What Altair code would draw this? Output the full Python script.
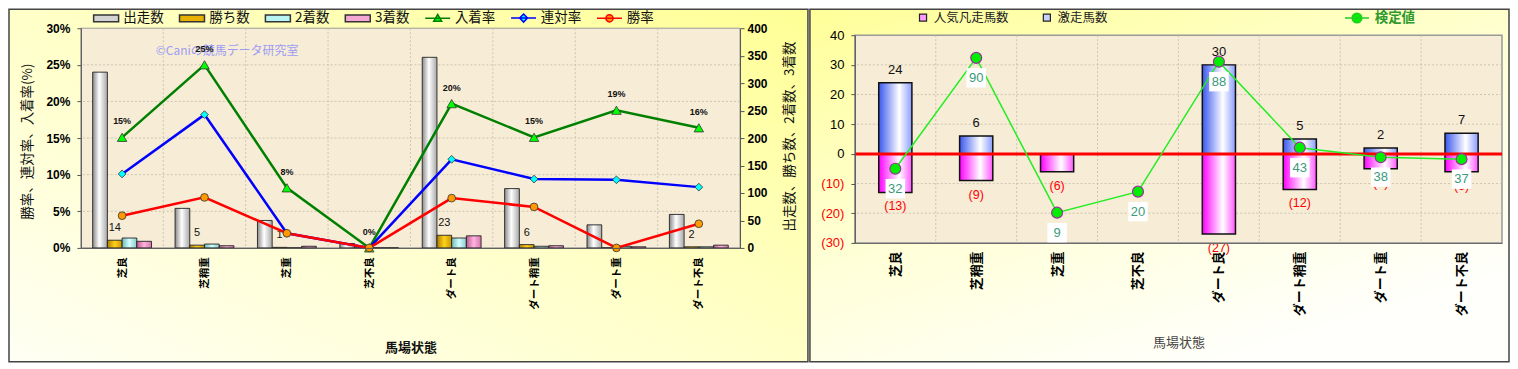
import altair as alt
import pandas as pd

# ---------------- data ----------------
cats = ["芝良", "芝稍重", "芝重", "芝不良", "ダート良", "ダート稍重", "ダート重", "ダート不良"]

bar_series = ["出走数", "勝ち数", "2着数", "3着数"]
starts = [320, 72, 50, 8, 347, 108, 42, 61]
wins = [14, 5, 1, 0, 23, 6, 0, 2]
seconds = [18, 7, 0, 0, 18, 3, 3, 2]
thirds = [12, 4, 3, 0, 22, 4, 2, 5]

rate_series = ["入着率", "連対率", "勝率"]
place_rate = [15.1, 25.0, 8.2, 0.0, 19.7, 15.1, 18.8, 16.4]
rentai_rate = [10.1, 18.2, 2.0, 0.0, 12.1, 9.4, 9.3, 8.3]
win_rate = [4.4, 6.9, 2.0, 0.0, 6.8, 5.6, 0.0, 3.3]

pct_ticks = [0, 5, 10, 15, 20, 25, 30]
cnt_ticks = [0, 50, 100, 150, 200, 250, 300, 350, 400]

right_series = ["人気凡走馬数", "激走馬数"]
gekisou = [24, 6, 0, 0, 30, 5, 2, 7]
bonsou = [-13, -9, -6, 0, -27, -12, -5, -6]
kentei = [32, 90, 9, 20, 88, 43, 38, 37]
diff_ticks = [-30, -20, -10, 0, 10, 20, 30, 40]
kentei_domain = [-6.83, 101.86]

watermark = "©Caniの競馬データ研究室"
x_title = "馬場状態"
left_y_title = "勝率、連対率、入着率(%)"
right_y_title = "出走数、勝ち数、2着数、3着数"
line_legend = "検定値"

# ---------------- tables ----------------
counts_df = pd.DataFrame(
    [{"cat": c, "series": s, "value": v}
     for s, vals in zip(bar_series, [starts, wins, seconds, thirds])
     for c, v in zip(cats, vals)]
)
rates_df = pd.DataFrame(
    [{"cat": c, "series": s, "rate": v}
     for s, vals in zip(rate_series, [place_rate, rentai_rate, win_rate])
     for c, v in zip(cats, vals)]
)
right_df = pd.DataFrame({"cat": cats, "gekisou": gekisou, "bonsou": bonsou, "kentei": kentei})
one = pd.DataFrame({"k": [0]})

JP = "Noto Sans CJK JP"
NUM = "Liberation Sans"

W1, H1 = 660, 220
W2, H2 = 648, 215


def grad(c0, c1, c2, mid=0.5, x2=1, y2=0, y1=0):
    return {"gradient": "linear", "x1": 0, "y1": y1, "x2": x2, "y2": y2,
            "stops": [{"offset": 0, "color": c0}, {"offset": mid, "color": c1},
                      {"offset": 1, "color": c2}]}


# ================= LEFT CHART =================
x_scale1 = alt.Scale(domain=cats, paddingInner=0, paddingOuter=0)
x_axis1 = alt.Axis(
    title=x_title, labelAngle=270, labelAlign="right", labelBaseline="middle",
    labelFont=JP, labelFontSize=10.5, labelFontWeight="bold", labelColor="#000",
    labelPadding=9, labelOverlap=False, tickBand="extent", tickSize=0,
    domainColor="#555", titleFont=JP, titleFontSize=13, titleFontWeight="bold",
    titleColor="#111", titleY=100, titleBaseline="middle", zindex=1,
)


def X1(**kw):
    return alt.X("cat:N", scale=x_scale1, axis=x_axis1, **kw)


cnt_scale = alt.Scale(domain=[0, 400], nice=False, zero=True)
cnt_axis = alt.Axis(
    orient="right", values=cnt_ticks, grid=False, tickSize=4, tickColor="#555",
    domainColor="#555", labelFont=NUM, labelFontSize=12, labelFontWeight="bold",
    labelColor="#000", labelPadding=3, title=right_y_title, titleFont=JP,
    titleFontSize=13.5, titleFontWeight="normal", titleColor="#111",
    titleAngle=270, titleX=50, titleY=108, titleAlign="center",
    titleBaseline="middle", zindex=1,
)
rate_scale = alt.Scale(domain=[0, 30], nice=False, zero=True)
rate_axis = alt.Axis(
    orient="left", values=pct_ticks, grid=False, tickSize=4, tickColor="#555",
    domainColor="#555", labelExpr="datum.value + '%'", labelFont=NUM,
    labelFontSize=12, labelFontWeight="bold", labelColor="#000", labelPadding=7,
    title=left_y_title, titleFont=JP, titleFontSize=13.5, titleFontWeight="normal",
    titleColor="#111", titleAngle=270, titleX=-53, titleY=113,
    titleAlign="center", titleBaseline="middle", zindex=1,
)


def Yc():
    return alt.Y("value:Q", scale=cnt_scale, axis=cnt_axis)


def Yr():
    return alt.Y("rate:Q", scale=rate_scale, axis=rate_axis)


xoff = alt.XOffset("series:N", scale=alt.Scale(domain=bar_series, paddingInner=0, paddingOuter=0.8))

panel1 = alt.Chart(one).mark_rect(
    fill=grad("#fffff4", "#ffffc8", "#ffff96", y1=1, y2=0), stroke="#444", strokeWidth=1.5
).encode(x=alt.value(-72), x2=alt.value(W1 + 68), y=alt.value(-19), y2=alt.value(334))

plot1 = alt.Chart(one).mark_rect(fill="#f7ecd6", stroke="#9a9a9a", strokeWidth=1).encode(
    x=alt.value(0), x2=alt.value(W1), y=alt.value(0), y2=alt.value(H1))

vgrid1 = alt.Chart(pd.DataFrame({"cat": cats[1:]})).mark_rule(
    color="#c4bba8", strokeDash=[2, 2], strokeWidth=0.8
).encode(x=X1(bandPosition=0))

hgrid1 = alt.Chart(pd.DataFrame({"t": pct_ticks[1:-1]})).mark_rule(
    color="#c4bba8", strokeDash=[2, 2], strokeWidth=0.8
).encode(y=alt.Y("t:Q", scale=rate_scale, axis=None))

wm = alt.Chart(one).mark_text(
    text=watermark, font=JP, fontSize=12, color="#9c9cf4", align="left", baseline="middle"
).encode(x=alt.value(75), y=alt.value(23))

bar_fills = {
    "出走数": grad("#8a8a8a", "#ffffff", "#a8a8a8", 0.45),
    "勝ち数": grad("#b07c00", "#ffd21a", "#c89400", 0.5),
    "2着数": grad("#6fb8b8", "#d4ffff", "#86cccc", 0.5),
    "3着数": grad("#c05a92", "#ffb4e0", "#d874aa", 0.5),
}
bar_layers = []
for s in bar_series:
    bar_layers.append(
        alt.Chart(counts_df).transform_filter(alt.datum.series == s).mark_bar(
            fill=bar_fills[s], stroke="#222", strokeWidth=0.9
        ).encode(x=X1(), xOffset=xoff, y=Yc())
    )
cnt_text = alt.Chart(counts_df).transform_filter(
    (alt.datum.series == "勝ち数") & (alt.datum.value > 0)
).mark_text(font=NUM, fontSize=11, color="#111", baseline="bottom", dy=-7).encode(
    x=X1(), xOffset=xoff, y=Yc(), text="value:Q")
counts_layer = alt.layer(*bar_layers, cnt_text)

line_styles = [
    ("入着率", "#008000", "#00ff00", "triangle-up", 90),
    ("連対率", "#0000ff", "#00ffff", "diamond", 60),
    ("勝率", "#ff0000", "#ff9900", "circle", 60),
]
lines, pts = [], []
for s, col, mfill, shp, sz in line_styles:
    base = alt.Chart(rates_df).transform_filter(alt.datum.series == s)
    lines.append(base.mark_line(color=col, strokeWidth=2.5).encode(x=X1(), y=Yr()))
    pts.append(base.mark_point(filled=True, fill=mfill, stroke="#333", strokeWidth=0.8,
                               size=sz, shape=shp, opacity=1).encode(x=X1(), y=Yr()))
pct_text = alt.Chart(rates_df).transform_filter(alt.datum.series == "入着率").transform_calculate(
    lbl="format(datum.rate, '.0f') + '%'"
).mark_text(font=NUM, fontSize=9, fontWeight="bold", color="#111", dy=-16).encode(
    x=X1(), y=Yr(), text="lbl:N")
rates_layer = alt.layer(*lines, *pts, pct_text)

all7 = bar_series + rate_series
fills7 = ["#d4d4d4", "#e8b000", "#b8f4f4", "#f4a8d4", "#00ff00", "#00ffff", "#ff9900"]
strokes7 = ["#333333", "#333333", "#333333", "#333333", "#008000", "#0000ff", "#ff0000"]
barp = "M-1,-1.1H7.33V1.1H-1Z"
paths7 = [barp, barp, barp, barp,
          "M-1,0H7.33M3.17,-1.3L4.5,1H1.84Z",
          "M-1,0H7.33M3.17,-1.35L4.5,0L3.17,1.35L1.84,0Z",
          "M-1,0H7.33M4.37,0A1.2,1.2,0,1,1,1.97,0A1.2,1.2,0,1,1,4.37,0Z"]
legL = alt.Legend(orient="none", legendX=9, legendY=-17, direction="horizontal", title=None,
                  symbolSize=36, symbolStrokeWidth=1.5, labelFont=JP, labelFontSize=13.5,
                  labelColor="#111", labelOffset=20, columnPadding=12)
leg_left = alt.Chart(alt.Data(values=[{"k": "出走数"}])).transform_filter("false").mark_point(
    filled=True, opacity=1
).encode(
    fill=alt.Fill("k:N", scale=alt.Scale(domain=all7, range=fills7), legend=legL),
    stroke=alt.Stroke("k:N", scale=alt.Scale(domain=all7, range=strokes7), legend=legL),
    shape=alt.Shape("k:N", scale=alt.Scale(domain=all7, range=paths7), legend=legL),
)

left = alt.layer(panel1, plot1, vgrid1, hgrid1, wm, counts_layer, rates_layer, leg_left).resolve_scale(
    y="independent").properties(width=W1, height=H1)

# ================= RIGHT CHART =================
x_scale2 = alt.Scale(domain=cats, paddingInner=0, paddingOuter=0)
x_axis2 = alt.Axis(
    title=x_title, labelAngle=270, labelAlign="right", labelBaseline="middle",
    labelFont=JP, labelFontSize=13, labelFontWeight="bold", labelColor="#000",
    labelPadding=8, labelOverlap=False, tickBand="extent", tickSize=0,
    domainColor="#666", titleFont=JP, titleFontSize=13, titleFontWeight="normal",
    titleColor="#444", titleY=100, titleBaseline="middle", zindex=1,
)


def X2(**kw):
    return alt.X("cat:N", scale=x_scale2, axis=x_axis2, **kw)


y_scale2 = alt.Scale(domain=[-30, 40], range=[H2, 7], nice=False, zero=False)
y_axis2 = alt.Axis(
    orient="left", values=diff_ticks, grid=False, tickSize=4, tickColor="#555",
    domainColor="#555", labelFont=NUM, labelFontSize=13,
    labelExpr="datum.value < 0 ? '(' + (-datum.value) + ')' : datum.value",
    labelColor={"condition": {"test": "datum.value < 0", "value": "#ff0000"}, "value": "#000000"},
    labelPadding=7, title=None, zindex=1,
)


def Y2(field):
    return alt.Y(field, type="quantitative", scale=y_scale2, axis=y_axis2)


panel2 = alt.Chart(one).mark_rect(
    fill=grad("#ffff99", "#ffffd8", "#fffffc", 0.55, x2=0.6, y2=1), stroke="#444", strokeWidth=1.5
).encode(x=alt.value(-45), x2=alt.value(W2 + 7), y=alt.value(-19), y2=alt.value(334))

plot2 = alt.Chart(one).mark_rect(fill="#f7ecd6", stroke="#9a9a9a", strokeWidth=1.5).encode(
    x=alt.value(0), x2=alt.value(W2), y=alt.value(7), y2=alt.value(H2))

vgrid2 = alt.Chart(pd.DataFrame({"cat": cats[1:]})).mark_rule(
    color="#c4bba8", strokeDash=[2, 2], strokeWidth=0.8
).encode(x=X2(bandPosition=0), y=alt.value(7), y2=alt.value(H2))

hgrid2 = alt.Chart(pd.DataFrame({"t": [v for v in diff_ticks if v not in (-30, 0, 40)]})).mark_rule(
    color="#c4bba8", strokeDash=[2, 2], strokeWidth=0.8
).encode(y=Y2("t"))

blue = alt.Chart(right_df).transform_filter(alt.datum.gekisou > 0).mark_bar(
    fill=grad("#3a58ee", "#ffffff", "#8a9cff", 0.62), stroke="#111", strokeWidth=1.5,
    width={"band": 0.41}
).encode(x=X2(), y=Y2("gekisou"))

pink = alt.Chart(right_df).transform_filter(alt.datum.bonsou < 0).mark_bar(
    fill=grad("#ff00ff", "#ffffff", "#ff55ff", 0.62), stroke="#111", strokeWidth=1.5,
    width={"band": 0.41}
).encode(x=X2(), y=Y2("bonsou"))

zero = alt.Chart(pd.DataFrame({"t": [0]})).mark_rule(color="#ff0000", strokeWidth=3).encode(y=Y2("t"))

blk = alt.Chart(right_df).transform_filter(alt.datum.gekisou > 0).mark_text(
    font=NUM, fontSize=13, color="#111", baseline="bottom", dy=-6
).encode(x=X2(), y=Y2("gekisou"), text="gekisou:Q")

red = alt.Chart(right_df).transform_filter(alt.datum.bonsou < 0).transform_calculate(
    lbl="'(' + (-datum.bonsou) + ')'"
).mark_text(font=NUM, fontSize=12.5, color="#ff0000", baseline="top", dy=8).encode(
    x=X2(), y=Y2("bonsou"), text="lbl:N")

primary = alt.layer(plot2, vgrid2, hgrid2, blue, pink, zero, blk, red)

k_scale = alt.Scale(domain=kentei_domain, range=[H2, 7], nice=False, zero=False)
Yk = alt.Y("kentei:Q", scale=k_scale, axis=None)
kline = alt.Chart(right_df).mark_line(color="#22ee22", strokeWidth=1.5).encode(x=X2(), y=Yk)
kpts = alt.Chart(right_df).mark_point(
    filled=True, shape="circle", fill="#00ee00", stroke="#993399", strokeWidth=1.2, size=120, opacity=1
).encode(x=X2(), y=Yk)
kbox = alt.Chart(right_df).mark_square(size=380, color="#ffffff", opacity=1, yOffset=20).encode(x=X2(), y=Yk)
ktxt = alt.Chart(right_df).mark_text(font=NUM, fontSize=13, color="#3a9a7a", dy=20).encode(
    x=X2(), y=Yk, text="kentei:Q")
secondary = alt.layer(kline, kpts, kbox, ktxt)

leg1 = alt.Chart(alt.Data(values=[{"k1": "激走馬数"}])).transform_filter("false").mark_point(
    filled=True, opacity=1
).encode(fill=alt.Fill("k1:N", scale=alt.Scale(domain=right_series, range=["#ff9cff", "#c8d0ff"]),
                       legend=alt.Legend(orient="none", legendX=62, legendY=-17, direction="horizontal",
                                         title=None, symbolType="square", symbolSize=50,
                                         symbolStrokeColor="#222", symbolStrokeWidth=1.2,
                                         labelFont=JP, labelFontSize=12.5, labelColor="#222",
                                         labelOffset=4.5, columnPadding=31)))
leg2 = alt.Chart(alt.Data(values=[{"k2": line_legend}])).transform_filter("false").mark_point(
    filled=True, opacity=1
).encode(fill=alt.Fill("k2:N", scale=alt.Scale(domain=[line_legend], range=["#00ee00"]),
                       legend=alt.Legend(orient="none", legendX=487, legendY=-17, direction="horizontal",
                                         title=None,
                                         symbolType="M-1,0H7M4.6,0A1.6,1.6,0,1,1,1.4,0A1.6,1.6,0,1,1,4.6,0Z",
                                         symbolSize=36, symbolStrokeColor="#22cc22", symbolStrokeWidth=1.5,
                                         labelFont=JP, labelFontSize=13.5, labelFontWeight="bold",
                                         labelColor="#2e9a2e", labelOffset=20)))

right = alt.layer(panel2, primary, secondary, leg1, leg2).resolve_scale(
    y="independent", fill="independent").properties(width=W2, height=H2)

chart = alt.hconcat(left, right, spacing=115, bounds="flush").properties(
    padding=0, background="white"
).configure_view(strokeWidth=0, stroke="transparent")

chart.save("out.html", embed_options={"renderer": "svg", "actions": False})
